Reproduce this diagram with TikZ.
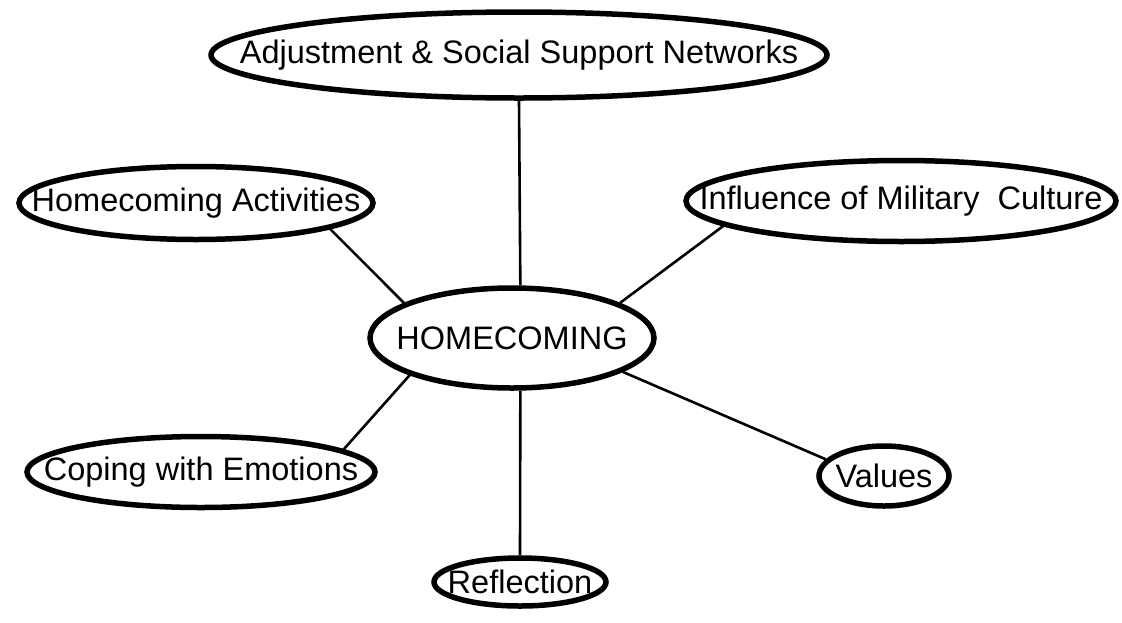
\documentclass[tikz,border=0pt]{standalone}
\usepackage{fontspec}
\setmainfont{Liberation Sans}
\usetikzlibrary{shapes.geometric}
\begin{document}
\begin{tikzpicture}[x=1pt,y=-1pt,
        topic/.style={shape=ellipse,draw=black,line width=5.5pt,inner xsep=-120pt,inner ysep=0pt,
            font=\fontsize{32.5}{36}\selectfont},
        link/.style={line width=2.6pt}]
            \useasboundingbox (0,0) rectangle (1122,622);

            \node[topic,minimum width=284pt,minimum height=100pt] (0) at (512,338) {HOMECOMING};
            \node[topic,minimum width=616pt,minimum height=86pt] (1) at (519,55) {Adjustment \& Social Support Networks};
            \node[topic,minimum width=354pt,minimum height=73pt] (2) at (196,203) {Homecoming Activities};
            \node[topic,minimum width=430pt,minimum height=81pt] (3) at (901,201) {Influence of Military~ Culture};
            \node[topic,minimum width=348pt,minimum height=71pt] (4) at (201,472) {Coping with Emotions};
            \node[topic,minimum width=130pt,minimum height=60pt] (5) at (884,476) {Values};
            \node[topic,minimum width=172pt,minimum height=48pt] (6) at (520,582) {Reflection};

            \path [link] (0.81) edge (1.south);
            \path [link] (0.162) edge (2.-11);
            \path [link] (0.18) edge (3.188);
            \path [link] (0.-160) edge (4.9);
            \path [link] (0.-17) edge (5.164);
            \path [link] (0.-81) edge (6.north);
        \end{tikzpicture}
\end{document}
